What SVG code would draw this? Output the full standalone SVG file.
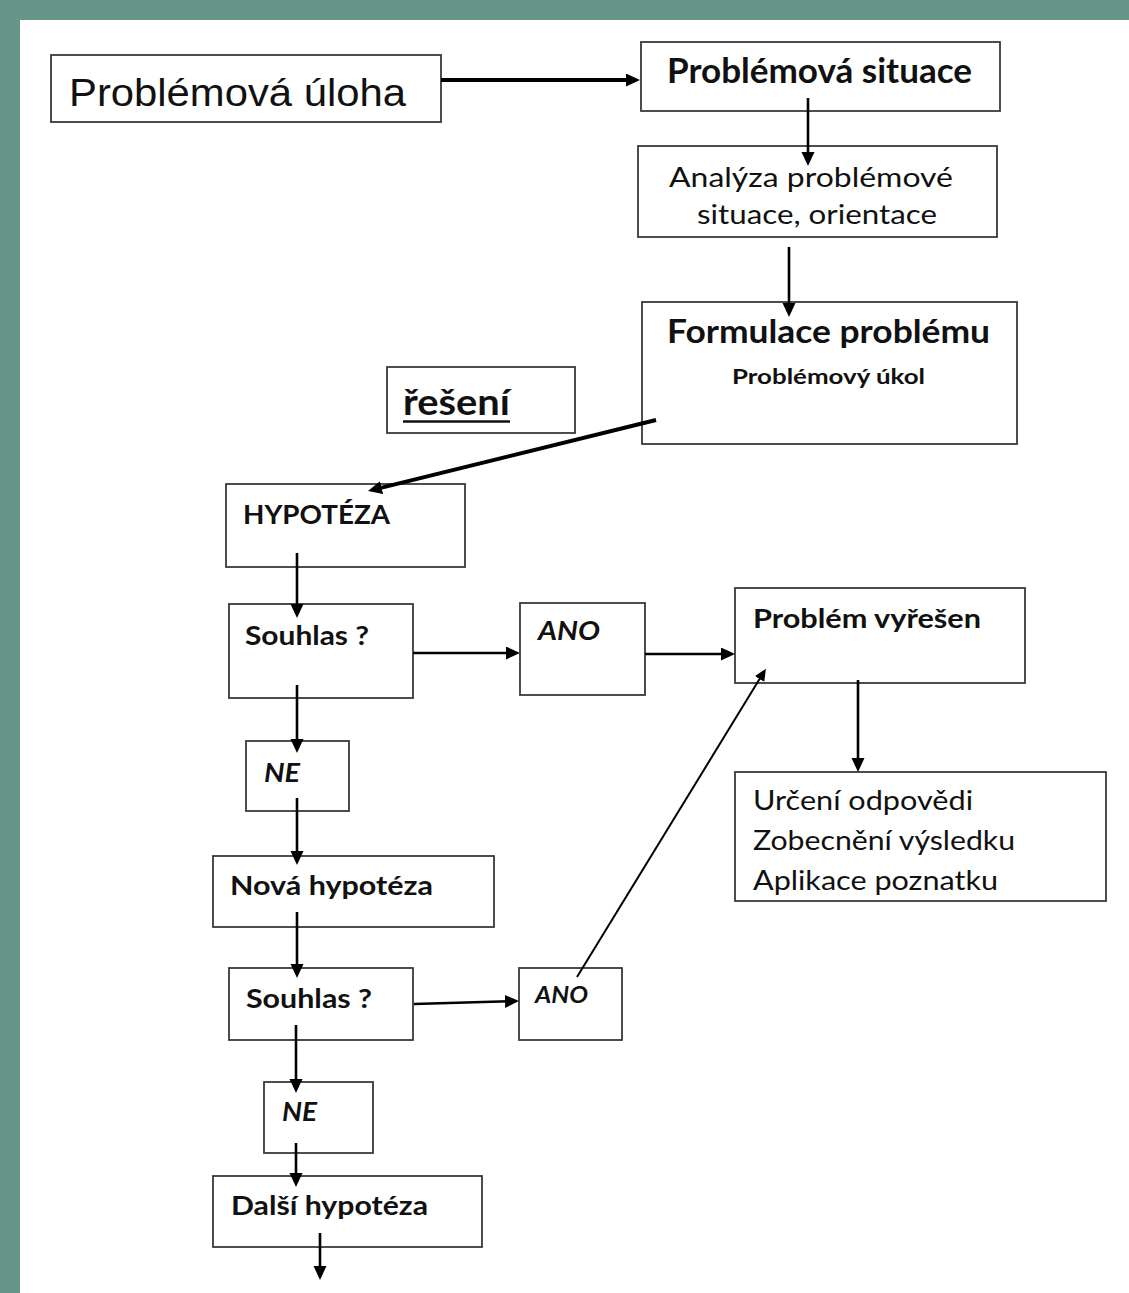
<svg xmlns="http://www.w3.org/2000/svg" width="1129" height="1293" viewBox="0 0 1129 1293">
  <style>
    .box { fill: #ffffff; stroke: #3a3a3a; stroke-width: 1.8; }
    .t { font-family: Lato, "Open Sans", sans-serif; fill: #111111; }
    .b { font-weight: bold; }
    .i { font-style: italic; }
    .ar { fill: none; stroke: #000000; stroke-width: 2.6; }
    .thick { stroke-width: 4; }
    .thin { stroke-width: 2; }
  </style>
  <defs>
    <marker id="ah" markerUnits="userSpaceOnUse" markerWidth="16" markerHeight="14" refX="4" refY="6.5" orient="auto">
      <path d="M0,0 L14,6.5 L0,13 z" fill="#000000"/>
    </marker>
    <marker id="ahs" markerUnits="userSpaceOnUse" markerWidth="14" markerHeight="12" refX="4" refY="5.5" orient="auto">
      <path d="M0,0 L12,5.5 L0,11 z" fill="#000000"/>
    </marker>
  </defs>
  <rect x="0" y="0" width="1129" height="1293" fill="#66968a"/>
  <rect x="20" y="20" width="1109" height="1273" fill="#ffffff"/>

  <g id="node-problemova-uloha">
    <rect class="box" x="51" y="55" width="390" height="67"/>
    <text x="69" y="106" font-family="'Liberation Sans', Arial, sans-serif" font-size="38" fill="#111111" textLength="337" lengthAdjust="spacingAndGlyphs">Problémová úloha</text>
  </g>
  <g id="node-problemova-situace">
    <rect class="box" x="641" y="42" width="359" height="69"/>
    <text class="t b" x="667" y="83" font-size="35" textLength="305" lengthAdjust="spacingAndGlyphs">Problémová situace</text>
  </g>
  <g id="node-analyza">
    <rect class="box" x="638" y="146" width="359" height="91"/>
    <text class="t" x="669" y="187" font-size="27" textLength="284" lengthAdjust="spacingAndGlyphs">Analýza problémové</text>
    <text class="t" x="697" y="224" font-size="27" textLength="240" lengthAdjust="spacingAndGlyphs">situace, orientace</text>
  </g>
  <g id="node-formulace">
    <rect class="box" x="642" y="302" width="375" height="142"/>
    <text class="t b" x="667" y="343" font-size="33" textLength="323" lengthAdjust="spacingAndGlyphs">Formulace problému</text>
    <text class="t b" x="732" y="384" font-size="21" textLength="193" lengthAdjust="spacingAndGlyphs">Problémový úkol</text>
  </g>
  <g id="node-reseni">
    <rect class="box" x="387" y="367" width="188" height="66"/>
    <text class="t b" x="403" y="415" font-size="36" textLength="107" lengthAdjust="spacingAndGlyphs">řešení</text>
    <line x1="403" y1="421.5" x2="510" y2="421.5" stroke="#111111" stroke-width="2.5"/>
  </g>
  <g id="node-hypoteza">
    <rect class="box" x="226" y="484" width="239" height="83"/>
    <text class="t b" x="243" y="524" font-size="27" textLength="147" lengthAdjust="spacingAndGlyphs">HYPOTÉZA</text>
  </g>
  <g id="node-souhlas-1">
    <rect class="box" x="229" y="604" width="184" height="94"/>
    <text class="t b" x="245" y="645" font-size="27" textLength="124" lengthAdjust="spacingAndGlyphs">Souhlas ?</text>
  </g>
  <g id="node-ano-1">
    <rect class="box" x="520" y="603" width="125" height="92"/>
    <text class="t b i" x="538" y="640" font-size="27" textLength="62" lengthAdjust="spacingAndGlyphs">ANO</text>
  </g>
  <g id="node-problem-vyresen">
    <rect class="box" x="735" y="588" width="290" height="95"/>
    <text class="t b" x="753" y="628" font-size="26" textLength="228" lengthAdjust="spacingAndGlyphs">Problém vyřešen</text>
  </g>
  <g id="node-urceni">
    <rect class="box" x="735" y="772" width="371" height="129"/>
    <text class="t" x="753" y="810" font-size="27" textLength="220" lengthAdjust="spacingAndGlyphs">Určení odpovědi</text>
    <text class="t" x="753" y="850" font-size="27" textLength="262" lengthAdjust="spacingAndGlyphs">Zobecnění výsledku</text>
    <text class="t" x="753" y="890" font-size="27" textLength="245" lengthAdjust="spacingAndGlyphs">Aplikace poznatku</text>
  </g>
  <g id="node-ne-1">
    <rect class="box" x="246" y="741" width="103" height="70"/>
    <text class="t b i" x="264" y="782" font-size="27" textLength="36" lengthAdjust="spacingAndGlyphs">NE</text>
  </g>
  <g id="node-nova-hypoteza">
    <rect class="box" x="213" y="856" width="281" height="71"/>
    <text class="t b" x="230" y="895" font-size="27" textLength="203" lengthAdjust="spacingAndGlyphs">Nová hypotéza</text>
  </g>
  <g id="node-souhlas-2">
    <rect class="box" x="229" y="968" width="184" height="72"/>
    <text class="t b" x="246" y="1008" font-size="27" textLength="126" lengthAdjust="spacingAndGlyphs">Souhlas ?</text>
  </g>
  <g id="node-ano-2">
    <rect class="box" x="519" y="968" width="103" height="72"/>
    <text class="t b i" x="535" y="1003" font-size="22" textLength="53" lengthAdjust="spacingAndGlyphs">ANO</text>
  </g>
  <g id="node-ne-2">
    <rect class="box" x="264" y="1082" width="109" height="71"/>
    <text class="t b i" x="282" y="1121" font-size="27" textLength="35" lengthAdjust="spacingAndGlyphs">NE</text>
  </g>
  <g id="node-dalsi-hypoteza">
    <rect class="box" x="213" y="1176" width="269" height="71"/>
    <text class="t b" x="231" y="1215" font-size="27" textLength="197" lengthAdjust="spacingAndGlyphs">Další hypotéza</text>
  </g>

  <g id="connectors">
    <line class="ar thick" x1="441" y1="80" x2="630" y2="80" marker-end="url(#ah)"/>
    <line class="ar" x1="808" y1="98" x2="808" y2="156" marker-end="url(#ah)"/>
    <line class="ar" x1="789" y1="247" x2="789" y2="307" marker-end="url(#ah)"/>
    <line class="ar thick" x1="656" y1="420" x2="377.7" y2="488.6" marker-end="url(#ah)"/>
    <line class="ar" x1="297" y1="553" x2="297" y2="608" marker-end="url(#ah)"/>
    <line class="ar" x1="413" y1="653" x2="510" y2="653" marker-end="url(#ah)"/>
    <line class="ar" x1="645" y1="654" x2="725" y2="654" marker-end="url(#ah)"/>
    <line class="ar" x1="858" y1="680" x2="858" y2="762" marker-end="url(#ah)"/>
    <line class="ar" x1="297" y1="685" x2="297" y2="743" marker-end="url(#ah)"/>
    <line class="ar" x1="297" y1="798" x2="297" y2="855" marker-end="url(#ah)"/>
    <line class="ar" x1="297" y1="912" x2="297" y2="968" marker-end="url(#ah)"/>
    <line class="ar" x1="414" y1="1004" x2="509" y2="1001.3" marker-end="url(#ah)"/>
    <line class="ar thin" x1="577" y1="977" x2="761.7" y2="675.6" marker-end="url(#ahs)"/>
    <line class="ar" x1="296" y1="1025" x2="296" y2="1083" marker-end="url(#ah)"/>
    <line class="ar" x1="296" y1="1143" x2="296" y2="1177" marker-end="url(#ah)"/>
    <line class="ar" x1="320" y1="1233" x2="320" y2="1270" marker-end="url(#ah)"/>
  </g>
</svg>
